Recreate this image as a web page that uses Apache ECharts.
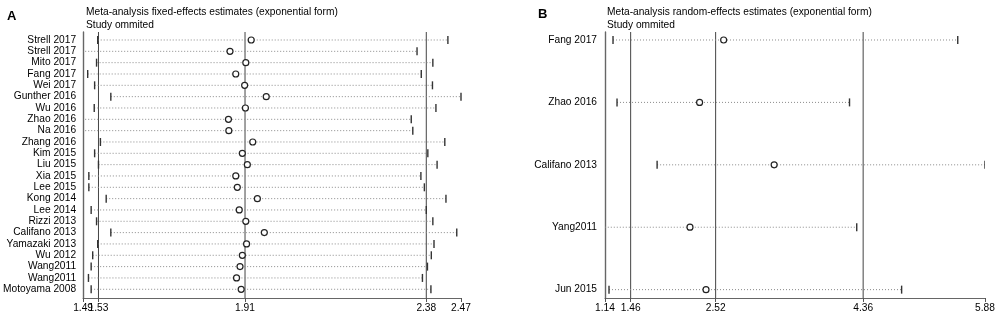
<!DOCTYPE html>
<html>
<head>
<meta charset="utf-8">
<script src="https://cdn.jsdelivr.net/npm/echarts@6/dist/echarts.min.js"></script>
<style>
  html, body { margin: 0; padding: 0; background: #fff; }
  #chart { width: 1000px; height: 317px; }
</style>
</head>
<body>
<div id="chart"></div>
<script>
// panel A: fixed-effects, one study omitted per row
var studiesA = ['Strell 2017', 'Strell 2017', 'Mito 2017', 'Fang 2017', 'Wei 2017', 'Gunther 2016', 'Wu 2016',
    'Zhao 2016', 'Na 2016', 'Zhang 2016', 'Kim 2015', 'Liu 2015', 'Xia 2015', 'Lee 2015', 'Kong 2014',
    'Lee 2014', 'Rizzi 2013', 'Califano 2013', 'Yamazaki 2013', 'Wu 2012', 'Wang2011', 'Wang2011', 'Motoyama 2008'];
var estA = [1.926, 1.871, 1.912, 1.886, 1.909, 1.965, 1.911, 1.867, 1.868, 1.930, 1.903, 1.916,
    1.886, 1.890, 1.942, 1.895, 1.912, 1.960, 1.914, 1.903, 1.897, 1.888, 1.900];
var lowA = [1.528, 1.480, 1.525, 1.502, 1.520, 1.562, 1.519, 1.480, 1.480, 1.535, 1.520, 1.530,
    1.505, 1.505, 1.550, 1.511, 1.525, 1.562, 1.528, 1.515, 1.511, 1.504, 1.511];
var highA = [2.436, 2.356, 2.397, 2.367, 2.396, 2.470, 2.405, 2.341, 2.345, 2.428, 2.384, 2.408,
    2.366, 2.375, 2.431, 2.380, 2.397, 2.459, 2.400, 2.393, 2.383, 2.370, 2.392];
var ticksA = [1.49, 1.53, 1.91, 2.38, 2.47];
var labelsA = [1.49, 1.91, 2.38, 2.47];
var crowdedA = [1.53];   // drawn on its own axis so it can overlap 1.49 like the original
var refA = [1.53, 1.91, 2.38];

// panel B: random-effects
var studiesB = ['Fang 2017', 'Zhao 2016', 'Califano 2013', 'Yang2011', 'Jun 2015'];
var estB = [2.62, 2.32, 3.25, 2.20, 2.40];
var lowB = [1.24, 1.29, 1.79, 1.10, 1.19];
var highB = [5.54, 4.19, 5.88, 4.28, 4.84];
var ticksB = [1.14, 1.46, 2.52, 4.36, 5.88];
var refB = [1.46, 2.52, 4.36];

var font = 'Arial, "Liberation Sans", sans-serif';

function rows(low, high, est) {
    return est.map(function (v, i) { return [low[i], high[i], v, i]; });
}
function idx(arr) {
    return arr.map(function (v, i) { return i; });
}

// dotted CI line, end bars, hollow circle
function renderRow(params, api) {
    var lo = api.coord([api.value(0), api.value(3)]);
    var hi = api.coord([api.value(1), api.value(3)]);
    var mid = api.coord([api.value(2), api.value(3)]);
    var h = 4;
    return {
        type: 'group',
        children: [
            { type: 'line', shape: { x1: lo[0], y1: lo[1], x2: hi[0], y2: hi[1] },
              style: { stroke: '#8a8a8a', lineWidth: 1, lineDash: [1, 2] } },
            { type: 'line', shape: { x1: lo[0], y1: lo[1] - h, x2: lo[0], y2: lo[1] + h },
              style: { stroke: '#333', lineWidth: 1.4 } },
            { type: 'line', shape: { x1: hi[0], y1: hi[1] - h, x2: hi[0], y2: hi[1] + h },
              style: { stroke: '#333', lineWidth: 1.4 } },
            { type: 'circle', shape: { cx: mid[0], cy: mid[1], r: 3 },
              style: { fill: '#fff', stroke: '#222', lineWidth: 1.2 } }
        ]
    };
}

// full-height vertical reference lines
function renderRef(params, api) {
    var cs = params.coordSys;
    var x = api.coord([api.value(0), 0])[0];
    return {
        type: 'line',
        shape: { x1: x, y1: cs.y, x2: x, y2: cs.y + cs.height },
        style: { stroke: '#444', lineWidth: 1 }
    };
}

function xAxisFor(grid, min, max, ticks, labels) {
    return {
        gridIndex: grid, type: 'value', position: 'bottom', min: min, max: max,
        splitLine: { show: false },
        axisLine: { onZero: false, lineStyle: { color: '#666', width: 1.2 } },
        axisTick: { customValues: ticks, length: 4, lineStyle: { color: '#555' } },
        axisLabel: {
            customValues: labels, showMinLabel: true, showMaxLabel: true, hideOverlap: false, margin: 5,
            color: '#000', fontSize: 10.2, fontFamily: font,
            formatter: function (v) { return v.toFixed(2); }
        }
    };
}

function yAxisFor(grid, min, max, names, margin) {
    return {
        gridIndex: grid, type: 'value', min: min, max: max, inverse: true,
        splitLine: { show: false },
        axisLine: { lineStyle: { color: '#666', width: 1.4 } },
        axisTick: { show: false },
        axisLabel: {
            customValues: idx(names), showMinLabel: true, showMaxLabel: true, margin: margin,
            color: '#000', fontSize: 10.2, fontFamily: font,
            formatter: function (v) { return names[Math.round(v)]; }
        }
    };
}

var extraA = xAxisFor(0, 1.49, 2.47, [], crowdedA);
extraA.axisLine = { show: false, onZero: false };
extraA.axisTick = { show: false };

var chart = echarts.init(document.getElementById('chart'));
chart.setOption({
    animation: false,
    textStyle: { fontFamily: font },
    title: [
        { text: 'A', left: 2, top: 5, textStyle: { fontSize: 13, fontWeight: 'bold', color: '#000', fontFamily: font } },
        { text: 'Meta-analysis fixed-effects estimates (exponential form)\nStudy ommited', left: 81, top: 0,
          textStyle: { fontSize: 10.2, fontWeight: 'normal', color: '#000', lineHeight: 13.5, fontFamily: font } },
        { text: 'B', left: 533, top: 3, textStyle: { fontSize: 13, fontWeight: 'bold', color: '#000', fontFamily: font } },
        { text: 'Meta-analysis random-effects estimates (exponential form)\nStudy ommited', left: 602, top: 0,
          textStyle: { fontSize: 10.2, fontWeight: 'normal', color: '#000', lineHeight: 13.5, fontFamily: font } }
    ],
    grid: [
        { left: 82, top: 32, width: 379, height: 266 },
        { left: 605, top: 32, width: 380, height: 266 }
    ],
    xAxis: [
        xAxisFor(0, 1.49, 2.47, ticksA, labelsA),
        xAxisFor(1, 1.14, 5.88, ticksB, ticksB),
        extraA
    ],
    yAxis: [
        yAxisFor(0, -0.706, 22.77, studiesA, 7),
        yAxisFor(1, -0.128, 4.134, studiesB, 8)
    ],
    series: [
        { type: 'custom', xAxisIndex: 0, yAxisIndex: 0, clip: true, renderItem: renderRef,
          data: refA.map(function (v) { return [v]; }) },
        { type: 'custom', xAxisIndex: 0, yAxisIndex: 0, clip: true, renderItem: renderRow,
          encode: { x: [0, 1, 2], y: 3 }, data: rows(lowA, highA, estA) },
        { type: 'custom', xAxisIndex: 1, yAxisIndex: 1, clip: true, renderItem: renderRef,
          data: refB.map(function (v) { return [v]; }) },
        { type: 'custom', xAxisIndex: 1, yAxisIndex: 1, clip: true, renderItem: renderRow,
          encode: { x: [0, 1, 2], y: 3 }, data: rows(lowB, highB, estB) }
    ]
});
</script>
</body>
</html>
